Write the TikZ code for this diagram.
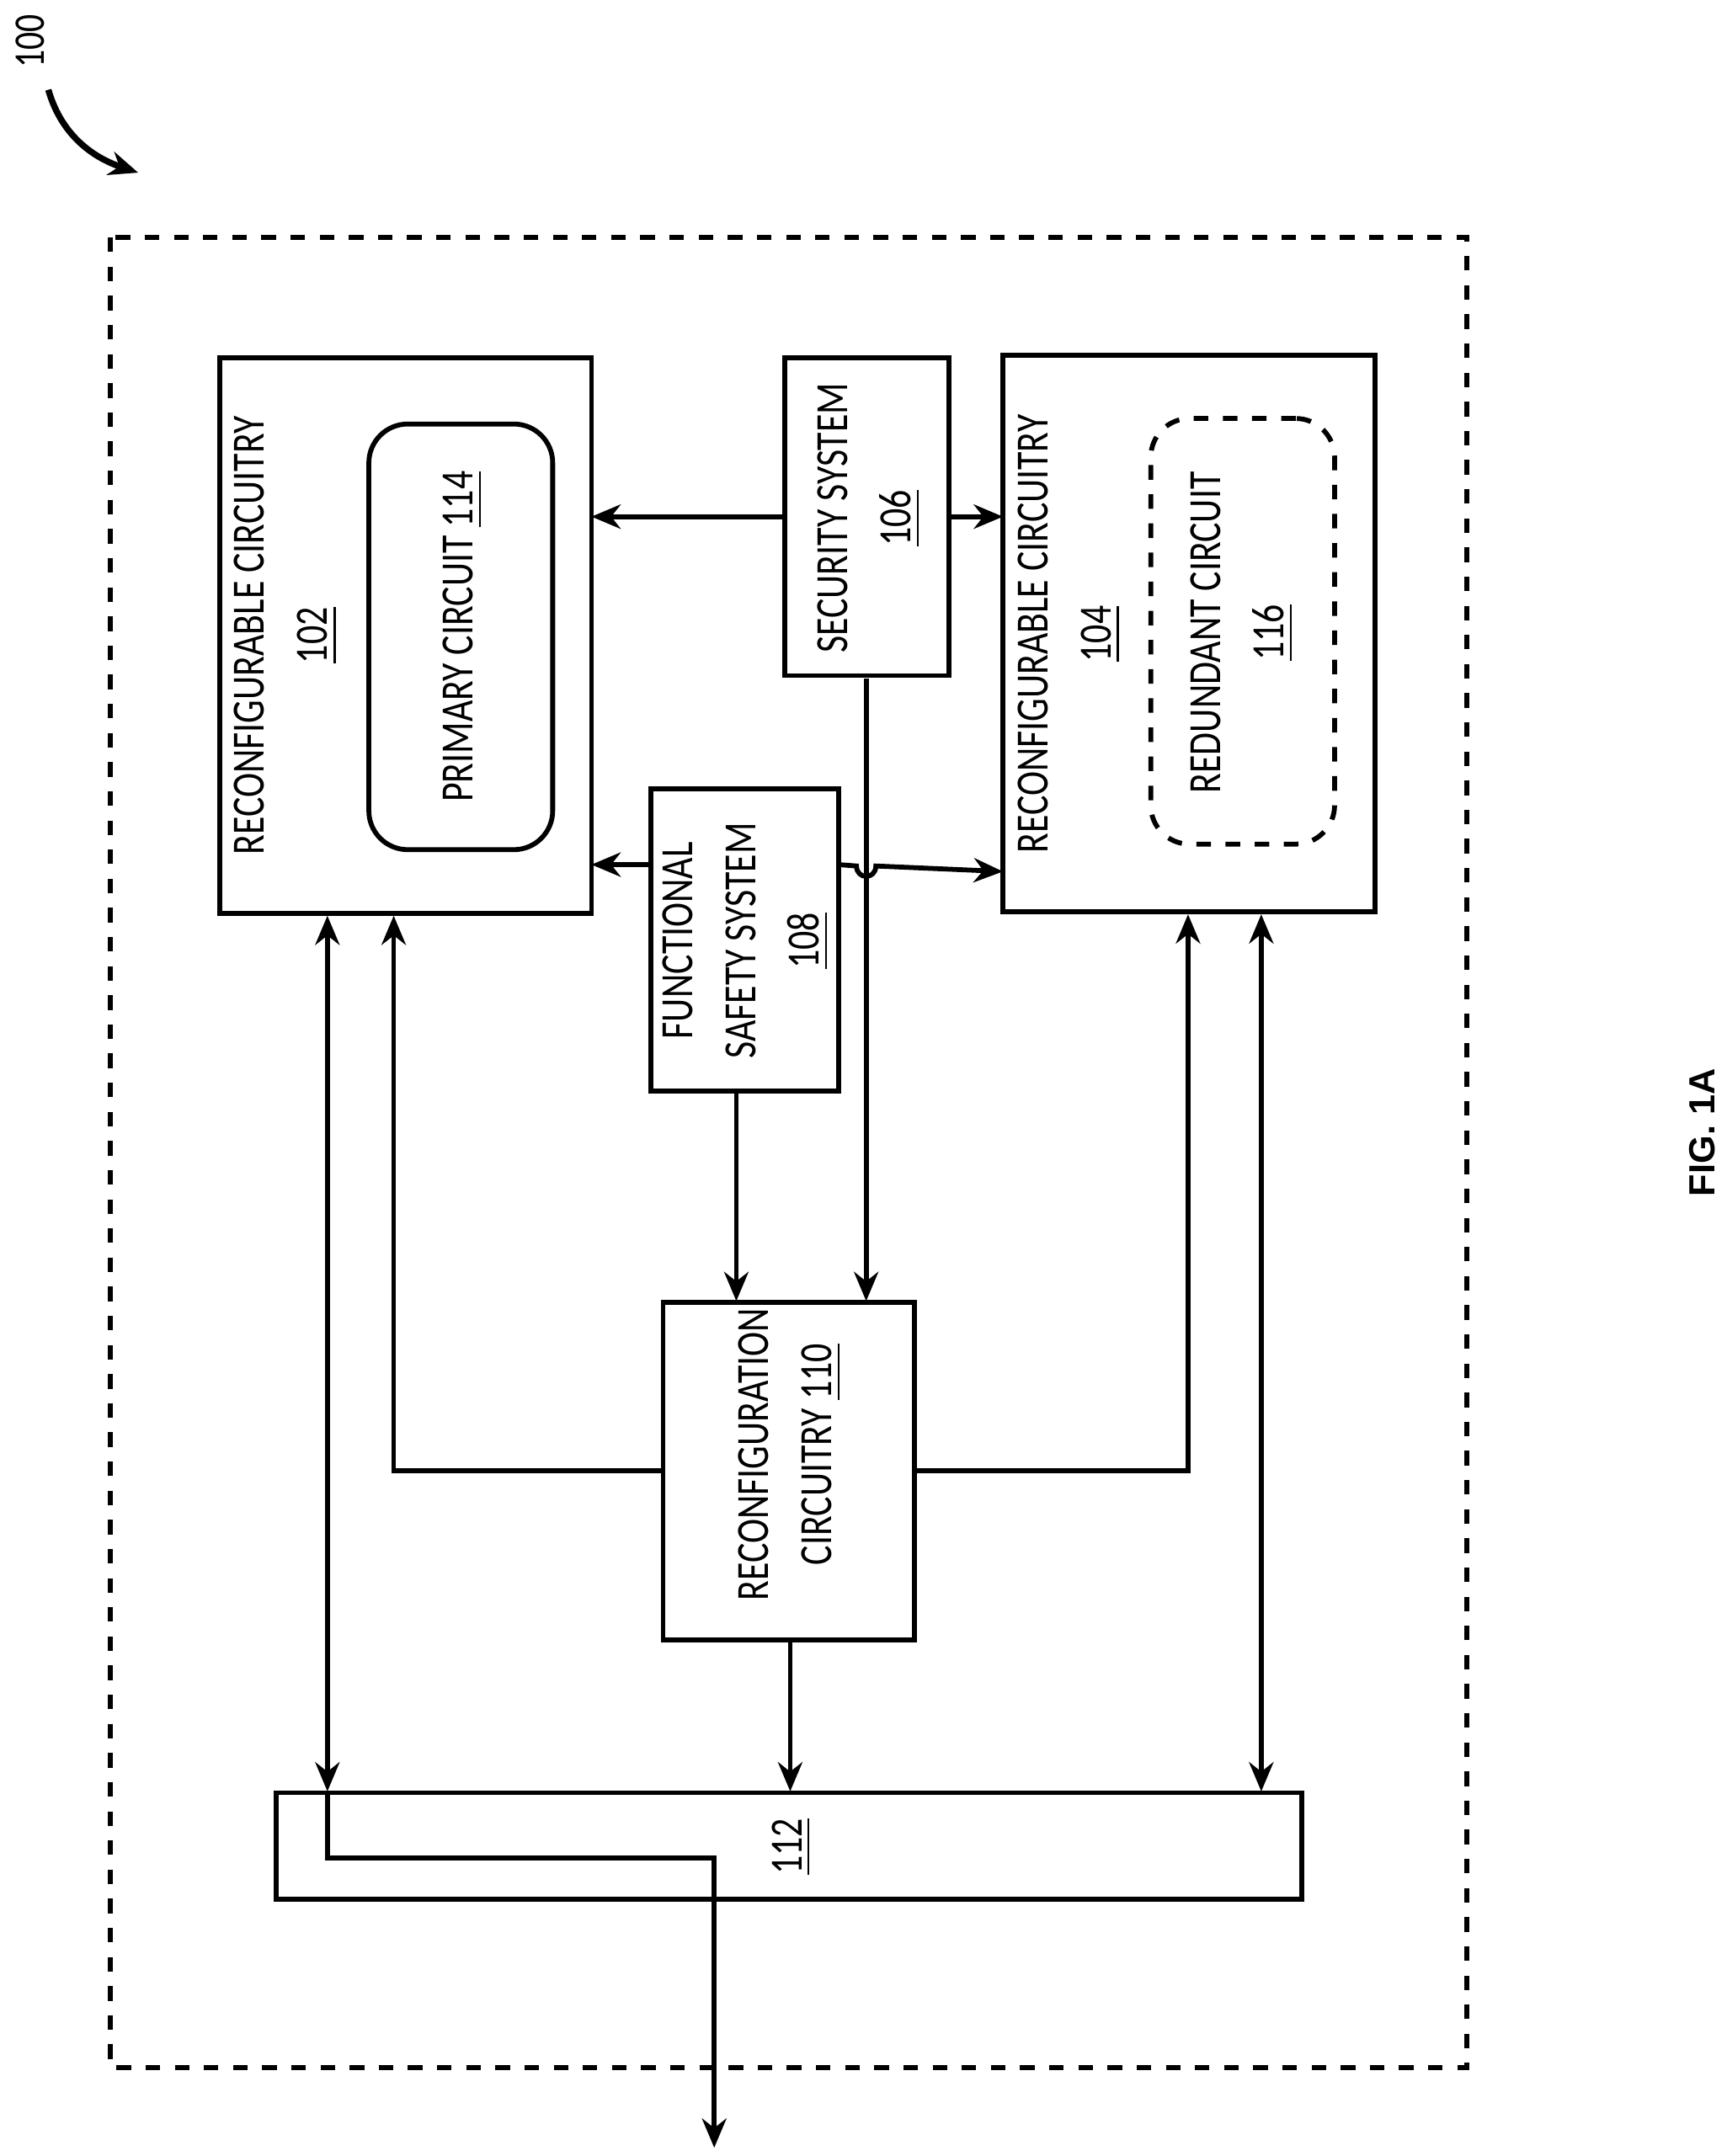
\documentclass[tikz,border=0pt]{standalone}
\usepackage{fontspec}
\setmainfont[FakeStretch=0.8]{Carlito}
\newfontfamily\figfont{Liberation Sans}
\usetikzlibrary{arrows.meta, positioning}

\tikzset{
  blk/.style={draw, line width=1pt, rectangle, anchor=north west, outer sep=0pt},
  lbl/.style={rotate=90, align=center, font=\fontsize{9.5}{13}\selectfont},
  con/.style={line width=1pt},
  arr/.style={con, -{Stealth[length=6pt,width=5pt]}},
  darr/.style={con, {Stealth[length=6pt,width=5pt]}-{Stealth[length=6pt,width=5pt]}}
}

\begin{document}
\begin{tikzpicture}[x=0.01cm, y=-0.01cm]
\useasboundingbox (0,0) rectangle (1250,1561);

% outer frame
\draw[dashed, line width=1pt] (80,172) rectangle (1062,1497);

% blocks
\node[blk, minimum width=2.69cm, minimum height=4.02cm] (rc1) at (159,259) {};
\node[draw, line width=1pt, rounded corners=8pt, anchor=north west, outer sep=0pt, minimum width=1.33cm, minimum height=3.08cm] (pc) at (267,307) {};
\node[blk, minimum width=1.19cm, minimum height=2.30cm] (sec) at (568,259) {};
\node[blk, minimum width=2.69cm, minimum height=4.03cm] (rc2) at (726,257) {};
\node[draw, line width=1pt, dashed, rounded corners=8pt, anchor=north west, outer sep=0pt, minimum width=1.33cm, minimum height=3.08cm] (rd) at (833,303) {};
\node[blk, minimum width=1.36cm, minimum height=2.19cm] (fs) at (471,571) {};
\node[blk, minimum width=1.82cm, minimum height=2.44cm] (rcfg) at (480,943) {};
\node[blk, minimum width=7.42cm, minimum height=0.77cm] (io) at (200,1298) {};

% labels
\node[lbl] at (207,460) {RECONFIGURABLE CIRCUITRY\\\underline{102}};
\node[lbl] at (335,461) {PRIMARY CIRCUIT \underline{114}};
\node[lbl] at (629,375) {SECURITY SYSTEM\\\underline{106}};
\node[lbl] at (774,459) {RECONFIGURABLE CIRCUITRY\\\underline{104}};
\node[lbl] at (899,458) {REDUNDANT CIRCUIT\\\underline{116}};
\node[lbl] at (540,681) {FUNCTIONAL\\SAFETY SYSTEM\\\underline{108}};
\node[lbl] at (572,1053) {RECONFIGURATION\\CIRCUITRY \underline{110}};
\node[lbl] at (573,1337) {\underline{112}};
\node[rotate=90, font=\figfont\bfseries\fontsize{7.5}{9}\selectfont] (fig) at (1232,820) {FIG. 1A};
\node[rotate=90, font=\fontsize{9}{11}\selectfont] (ref) at (22,30) {100};
\draw[arr, line width=1.3pt] (35,65) .. controls (45,100) and (70,115) .. (100,125);

% connectors
\draw[arr] (sec.west) -- (rc1.east |- sec.west);
\draw[arr] (sec.east) -- (rc2.west |- sec.east);
\draw[arr] (fs.west |- 0,626) -- (rc1.east |- 0,626);
\draw[arr] (fs.east |- 0,626) -- (620,627) .. controls (620,637) and (634,637) .. (634,627) -- (rc2.west |- 0,631);
\draw[arr] (627,491) -- (627,942);
\draw[arr] (533,792) -- (533,942);
\draw[arr] (rcfg.west |- 0,1065) -- (285,1065) -- (285,663);
\draw[arr] (rcfg.east |- 0,1065) -- (860,1065) -- (860,662);
\draw[arr] (572,1189) -- (572,1297);
\draw[darr] (237,663) -- (237,1297);
\draw[darr] (913,662) -- (913,1297);
\draw[arr] (237,1297) -- (237,1345) -- (517,1345) -- (517,1555);
\end{tikzpicture}
\end{document}
